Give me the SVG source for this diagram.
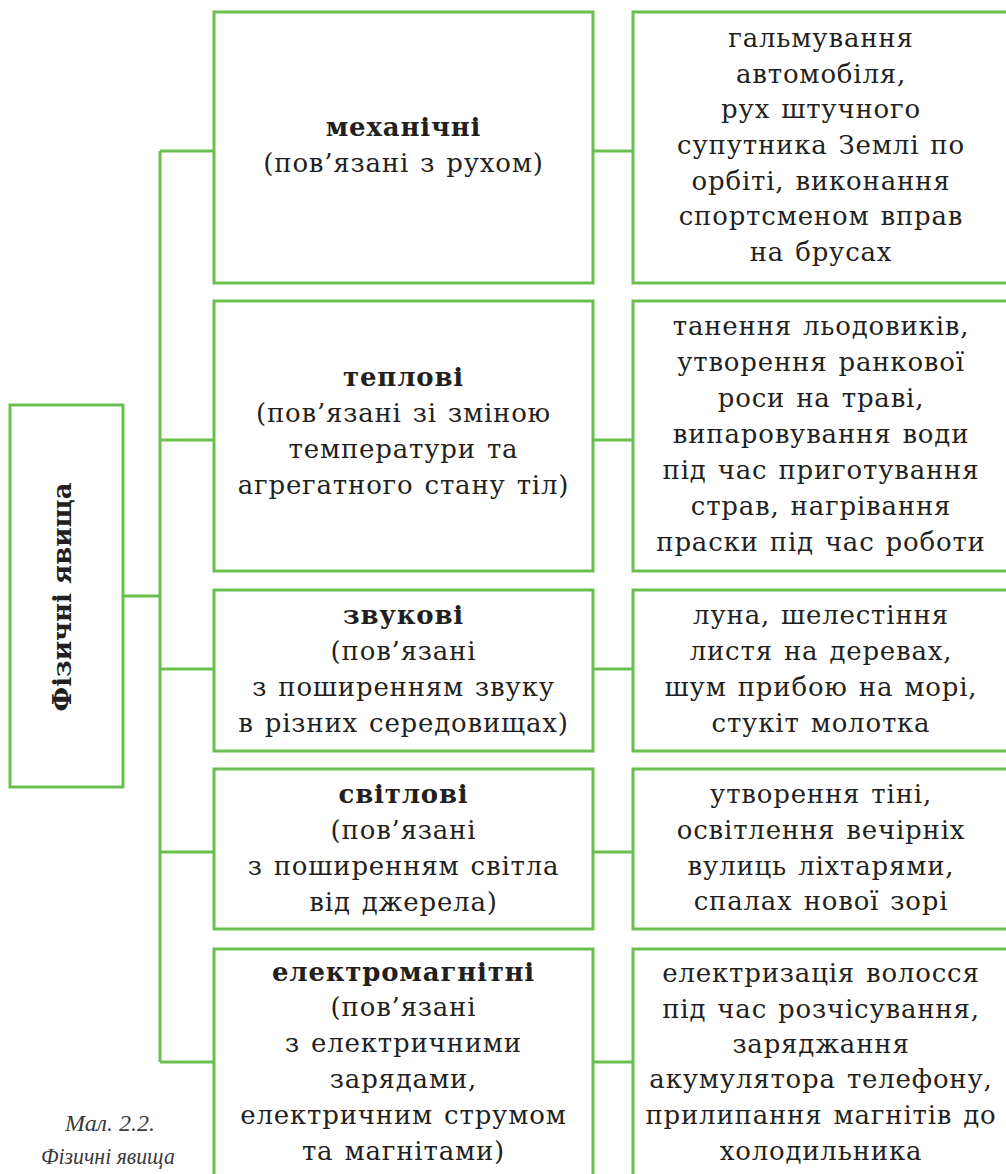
<svg xmlns="http://www.w3.org/2000/svg" width="1006" height="1174" viewBox="0 0 1006 1174">
<style>
.box{fill:#fff;stroke:#6bbf4e;stroke-width:3}
.conn{stroke:#6bbf4e;stroke-width:3;fill:none}
.t{font-family:"DejaVu Serif","Liberation Serif",serif;font-size:26px;letter-spacing:0.8px;word-spacing:2px;fill:#231f20;text-anchor:middle}
.b{font-weight:bold}
.cap{font-family:"Liberation Serif",serif;font-style:italic;font-size:24px;fill:#3a3a3a;text-anchor:middle}
</style>
<rect width="1006" height="1174" fill="#fff"/>
<g id="connectors">
<path class="conn" d="M160,151 V1062 M123,596 H160 M160,151 H214 M160,440 H214 M160,669 H214 M160,852 H214 M160,1062 H214 M593,151 H633 M593,440 H633 M593,669 H633 M593,852 H633 M593,1062 H633"/>
</g>
<g id="root">
<rect class="box" x="10" y="405" width="113" height="382"/>
<text class="t b" style="letter-spacing:0;word-spacing:0" transform="translate(71,597) rotate(-90)">Фізичні явища</text>
</g>
<g id="mech">
<rect class="box" x="214" y="12" width="379" height="271"/>
<text class="t b" x="403.5" y="136">механічні</text>
<text class="t" x="403.5" y="172">(пов’язані з рухом)</text>
</g>
<g id="mech-ex">
<rect class="box" x="633" y="12" width="380" height="271"/>
<text class="t" x="821" y="47">гальмування</text>
<text class="t" x="821" y="83">автомобіля,</text>
<text class="t" x="821" y="118">рух штучного</text>
<text class="t" x="821" y="154">супутника Землі по</text>
<text class="t" x="821" y="190">орбіті,  виконання</text>
<text class="t" x="821" y="225">спортсменом вправ</text>
<text class="t" x="821" y="261">на брусах</text>
</g>
<g id="heat">
<rect class="box" x="214" y="301" width="379" height="270"/>
<text class="t b" x="403.5" y="386">теплові</text>
<text class="t" x="403.5" y="422">(пов’язані зі зміною</text>
<text class="t" x="403.5" y="458">температури та</text>
<text class="t" x="403.5" y="494">агрегатного стану тіл)</text>
</g>
<g id="heat-ex">
<rect class="box" x="633" y="301" width="380" height="270"/>
<text class="t" x="821" y="335">танення льодовиків,</text>
<text class="t" x="821" y="371">утворення ранкової</text>
<text class="t" x="821" y="407">роси на траві,</text>
<text class="t" x="821" y="443">випаровування води</text>
<text class="t" x="821" y="479">під час приготування</text>
<text class="t" x="821" y="515">страв, нагрівання</text>
<text class="t" x="821" y="551">праски під час роботи</text>
</g>
<g id="sound">
<rect class="box" x="214" y="590" width="379" height="161"/>
<text class="t b" x="403.5" y="624">звукові</text>
<text class="t" x="403.5" y="660">(пов’язані</text>
<text class="t" x="403.5" y="696">з поширенням звуку</text>
<text class="t" x="403.5" y="732">в різних середовищах)</text>
</g>
<g id="sound-ex">
<rect class="box" x="633" y="590" width="380" height="161"/>
<text class="t" x="821" y="624">луна,  шелестіння</text>
<text class="t" x="821" y="660">листя на деревах,</text>
<text class="t" x="821" y="696">шум прибою на морі,</text>
<text class="t" x="821" y="732">стукіт молотка</text>
</g>
<g id="light">
<rect class="box" x="214" y="769" width="379" height="160"/>
<text class="t b" x="403.5" y="803">світлові</text>
<text class="t" x="403.5" y="839">(пов’язані</text>
<text class="t" x="403.5" y="875">з поширенням світла</text>
<text class="t" x="403.5" y="911">від джерела)</text>
</g>
<g id="light-ex">
<rect class="box" x="633" y="769" width="380" height="160"/>
<text class="t" x="821" y="803">утворення тіні,</text>
<text class="t" x="821" y="839">освітлення вечірніх</text>
<text class="t" x="821" y="875">вулиць ліхтарями,</text>
<text class="t" x="821" y="910">спалах нової зорі</text>
</g>
<g id="em">
<rect class="box" x="214" y="949" width="379" height="240"/>
<text class="t b" x="403.5" y="981">електромагнітні</text>
<text class="t" x="403.5" y="1016">(пов’язані</text>
<text class="t" x="403.5" y="1052">з електричними</text>
<text class="t" x="403.5" y="1088">зарядами,</text>
<text class="t" x="403.5" y="1124">електричним струмом</text>
<text class="t" x="403.5" y="1160">та магнітами)</text>
</g>
<g id="em-ex">
<rect class="box" x="633" y="949" width="380" height="240"/>
<text class="t" x="821" y="982">електризація волосся</text>
<text class="t" x="821" y="1018">під час розчісування,</text>
<text class="t" x="821" y="1053">заряджання</text>
<text class="t" x="821" y="1088">акумулятора телефону,</text>
<text class="t" x="821" y="1124">прилипання магнітів до</text>
<text class="t" x="821" y="1160">холодильника</text>
</g>
<g id="caption">
<text class="cap" x="110" y="1131" textLength="90" lengthAdjust="spacingAndGlyphs">Мал. 2.2.</text>
<text class="cap" x="108" y="1164" textLength="134" lengthAdjust="spacingAndGlyphs">Фізичні явища</text>
</g>
</svg>
